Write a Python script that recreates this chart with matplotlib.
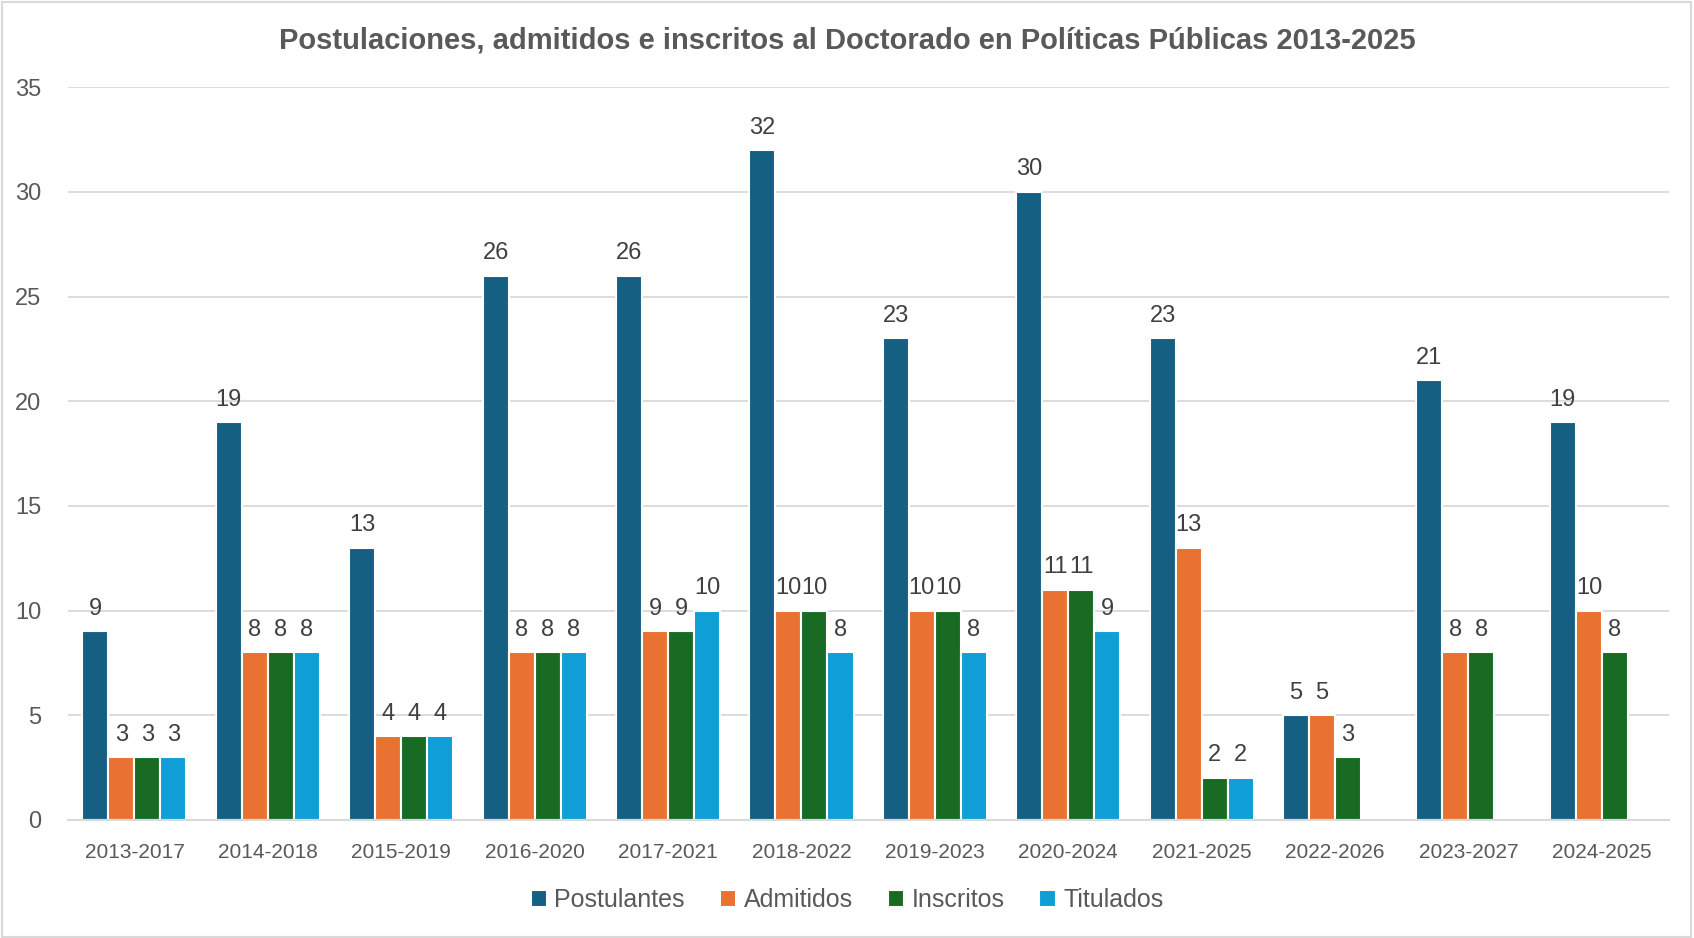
import numpy as np
import matplotlib
matplotlib.use("Agg")
import matplotlib.pyplot as plt
from matplotlib.patches import Rectangle

categories = ["2013-2017", "2014-2018", "2015-2019", "2016-2020", "2017-2021", "2018-2022",
              "2019-2023", "2020-2024", "2021-2025", "2022-2026", "2023-2027", "2024-2025"]
postulantes = [9, 19, 13, 26, 26, 32, 23, 30, 23, 5, 21, 19]
admitidos = [3, 8, 4, 8, 9, 10, 10, 11, 13, 5, 8, 10]
inscritos = [3, 8, 4, 8, 9, 10, 10, 11, 2, 3, 8, 8]
titulados = [3, 8, 4, 8, 10, 8, 8, 9, 2, None, None, None]

series_names = ["Postulantes", "Admitidos", "Inscritos", "Titulados"]
series_values = [postulantes, admitidos, inscritos, titulados]
colors = ["#156082", "#E97132", "#196B24", "#0F9ED5"]
yticks = [0, 5, 10, 15, 20, 25, 30, 35]

plt.rcParams['font.family'] = ['Liberation Sans', 'DejaVu Sans']

fig = plt.figure(figsize=(16.94, 9.38), dpi=100)
ax = fig.add_axes([0.040, 0.126, 0.945, 0.781])

x = np.arange(len(categories))
w = 0.195
offsets = [-1.5, -0.5, 0.5, 1.5]
for name, vals, c, off in zip(series_names, series_values, colors, offsets):
    v = np.array([np.nan if a is None else a for a in vals], dtype=float)
    ax.bar(x + off * w, v, width=w, color=c, edgecolor="white", linewidth=1.5,
           label=name, zorder=3)
    for xi, vi in zip(x + off * w, v):
        if not np.isnan(vi):
            ax.text(xi, vi + 0.55, f"{int(vi)}", ha="center", va="bottom",
                    fontsize=17, color="#404040")

ax.set_xlim(-0.5, len(categories) - 0.5)
ax.set_ylim(0, 35)
ax.set_yticks(yticks)
ax.set_xticks(x)
ax.set_xticklabels(categories)
ax.tick_params(axis="both", length=0, colors="#595959")
ax.tick_params(axis="x", pad=17, labelsize=15)
ax.tick_params(axis="y", pad=19, labelsize=17)
ax.yaxis.grid(True, color="#D9D9D9", linewidth=1.3, zorder=0)
ax.set_axisbelow(True)
for s in ["top", "right", "left"]:
    ax.spines[s].set_visible(False)
ax.spines["bottom"].set_color("#D9D9D9")
ax.spines["bottom"].set_linewidth(1.5)
ax.spines["bottom"].set_zorder(4)

fig.text(0.5, 0.957, "Postulaciones, admitidos e inscritos al Doctorado en Políticas Públicas 2013-2025",
         ha="center", va="center", fontsize=21, fontweight="bold", color="#595959")

leg = fig.legend(*ax.get_legend_handles_labels(), loc="center", bbox_to_anchor=(0.5, 0.040),
                 ncol=4, frameon=False, fontsize=18, handlelength=0.65, handleheight=0.65,
                 handletextpad=0.3, columnspacing=1.4)
for t in leg.get_texts():
    t.set_color("#595959")

fig.patches.append(Rectangle((0.001, 0.001), 0.997, 0.997, transform=fig.transFigure,
                             fill=False, edgecolor="#D9D9D9", linewidth=1.5))

fig.savefig("out.png", dpi=100, facecolor="white")
